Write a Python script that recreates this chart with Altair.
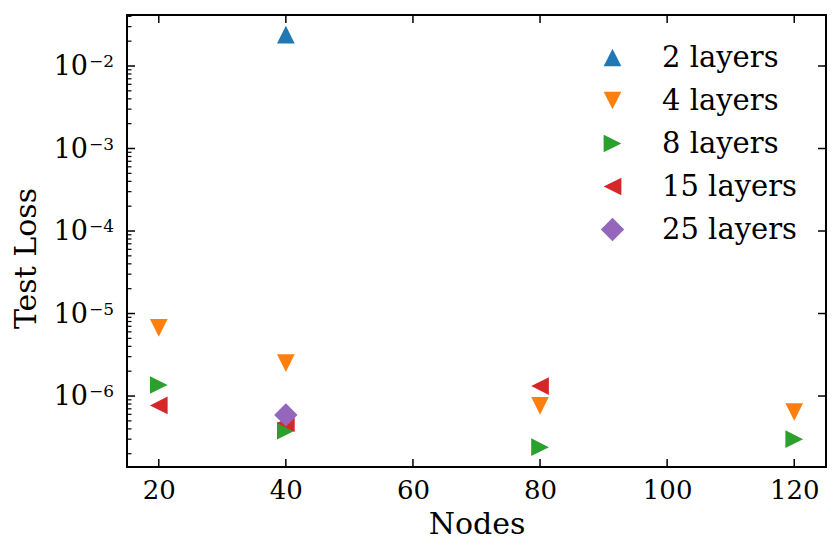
import altair as alt
import pandas as pd
import numpy as np

# ---- data ----
series_names = ["2 layers", "4 layers", "8 layers", "15 layers", "25 layers"]
nodes_2 = [40]
loss_2 = [2.4e-2]
nodes_4 = [20, 40, 80, 120]
loss_4 = [6.7e-6, 2.5e-6, 7.6e-7, 6.4e-7]
nodes_8 = [20, 40, 80, 120]
loss_8 = [1.36e-6, 3.8e-7, 2.4e-7, 3.0e-7]
nodes_15 = [20, 40, 80]
loss_15 = [7.7e-7, 4.7e-7, 1.32e-6]
nodes_25 = [40]
loss_25 = [5.9e-7]

colors = ["#1f77b4", "#ff7f0e", "#2ca02c", "#d62728", "#9467bd"]
# matplotlib-like marker outlines: ^ v > < D
shapes = ["M0,-1L-1,1L1,1Z", "M0,1L-1,-1L1,-1Z", "M1,0L-1,-1L-1,1Z",
          "M-1,0L1,-1L1,1Z", "M0,-1.32L1.32,0L0,1.32L-1.32,0Z"]
MSIZE = 313

x_ticks = [20, 40, 60, 80, 100, 120]
y_ticks = [1e-2, 1e-3, 1e-4, 1e-5, 1e-6]
y_tick_base = "10"
y_tick_exps = ["−2", "−3", "−4", "−5", "−6"]

x_domain = [15, 125]
y_domain = [1.38e-7, 4.15e-2]

W, H = 699, 452
FONT = "DejaVu Serif"

rows = []
for name, xs_, ys_ in zip(series_names,
                          [nodes_2, nodes_4, nodes_8, nodes_15, nodes_25],
                          [loss_2, loss_4, loss_8, loss_15, loss_25]):
    for xv, yv in zip(xs_, ys_):
        rows.append({"Nodes": xv, "Loss": yv, "series": name})
df = pd.DataFrame(rows)

# minor tick positions (2..9 x each decade inside the domain)
minor = []
for e in range(-8, 0):
    for m in range(2, 10):
        v = m * 10.0 ** e
        if y_domain[0] <= v <= y_domain[1]:
            minor.append(v)

xs = alt.Scale(domain=x_domain, nice=False, zero=False)
ys = alt.Scale(type="log", domain=y_domain, nice=False)

x_axis = alt.Axis(values=x_ticks, ticks=False, domain=False, grid=False,
                  title="Nodes", labelFont=FONT, labelFontSize=26,
                  labelPadding=10, titleFont=FONT, titleFontSize=30,
                  titleFontWeight="normal", titlePadding=6,
                  labelColor="black", titleColor="black")
y_axis = alt.Axis(values=y_ticks, labels=False, ticks=False,
                  domain=False, grid=False, title="Test Loss",
                  titleFont=FONT, titleFontSize=30, titleFontWeight="normal",
                  titleX=-101, titleY=243, titleAngle=270, titleAlign="center",
                  titleBaseline="middle", titleColor="black")

points = alt.Chart(df).mark_point(filled=True, opacity=1, strokeWidth=0,
                                  size=MSIZE).encode(
    x=alt.X("Nodes:Q", scale=xs, axis=x_axis, title="Nodes"),
    y=alt.Y("Loss:Q", scale=ys, axis=y_axis, title="Test Loss"),
    color=alt.Color("series:N", sort=series_names,
                    scale=alt.Scale(domain=series_names, range=colors),
                    legend=alt.Legend(title=None, orient="none", legendX=471, legendY=28)),
    shape=alt.Shape("series:N", sort=series_names,
                    scale=alt.Scale(domain=series_names, range=shapes)),
    order=alt.Order("ord:Q"),
).transform_calculate(
    ord="indexof(" + str(series_names) + ", datum.series)"
)

tick_df_x = pd.DataFrame({"v": x_ticks})
tick_df_y = pd.DataFrame({"v": y_ticks, "exp": y_tick_exps})
tick_df_ym = pd.DataFrame({"v": minor})

tk = dict(color="black", strokeWidth=1.5)
xb = alt.Chart(tick_df_x).mark_rule(**tk).encode(
    x=alt.X("v:Q", scale=xs, axis=x_axis, title="Nodes"), y=alt.value(H), y2=alt.value(H - 8))
xt = alt.Chart(tick_df_x).mark_rule(**tk).encode(
    x=alt.X("v:Q", scale=xs, axis=x_axis, title="Nodes"), y=alt.value(0), y2=alt.value(8))
yl = alt.Chart(tick_df_y).mark_rule(**tk).encode(
    y=alt.Y("v:Q", scale=ys, axis=y_axis, title="Test Loss"), x=alt.value(0), x2=alt.value(8))
yr = alt.Chart(tick_df_y).mark_rule(**tk).encode(
    y=alt.Y("v:Q", scale=ys, axis=y_axis, title="Test Loss"), x=alt.value(W), x2=alt.value(W - 8))
ylm = alt.Chart(tick_df_ym).mark_rule(color="black", strokeWidth=1.2).encode(
    y=alt.Y("v:Q", scale=ys, axis=y_axis, title="Test Loss"), x=alt.value(0), x2=alt.value(4.5))

# y tick labels: "10" plus raised exponent (mathtext-like)
ylab_base = alt.Chart(tick_df_y).mark_text(
    text=y_tick_base, font=FONT, fontSize=27, align="right", baseline="middle",
    dx=-39, dy=1, color="black").encode(
    y=alt.Y("v:Q", scale=ys, axis=y_axis, title="Test Loss"), x=alt.value(0))
ylab_exp = alt.Chart(tick_df_y).mark_text(
    font=FONT, fontSize=17, align="left", baseline="alphabetic",
    dx=-38, dy=1, color="black").encode(
    y=alt.Y("v:Q", scale=ys, axis=y_axis, title="Test Loss"), x=alt.value(0),
    text="exp:N")

chart = alt.layer(points, xb, xt, yl, yr, ylm, ylab_base, ylab_exp).properties(
    width=W, height=H,
    autosize=alt.AutoSizeParams(type="none"),
    padding={"left": 119, "top": 7, "right": 6, "bottom": 80},
).configure_view(
    stroke="black", strokeWidth=2
).configure_legend(
    labelFont=FONT, labelFontSize=29, labelColor="black",
    symbolOpacity=1, symbolStrokeWidth=0, symbolSize=MSIZE,
    rowPadding=13, labelOffset=35, padding=0
)

chart.save("out.html", embed_options={"renderer": "svg", "actions": False})
